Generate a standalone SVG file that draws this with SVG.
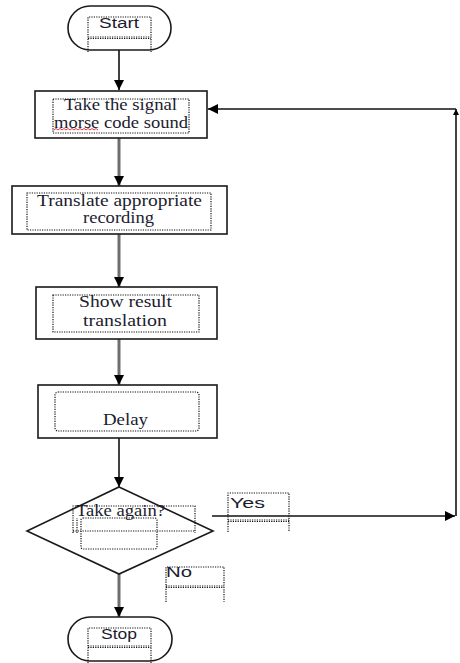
<svg xmlns="http://www.w3.org/2000/svg" width="460" height="663" viewBox="0 0 460 663">
<style>
.shape{fill:#fff;stroke:#1a1a1a;stroke-width:1.6}
.dot{fill:none;stroke:#111;stroke-width:1.2;stroke-dasharray:1.2 1.2}
.ser{font-family:"Liberation Serif","Times New Roman",serif;font-size:16px;fill:#1c1c30}
.sans{font-family:"Liberation Sans",Arial,sans-serif;font-size:14px;fill:#1c1c30}
.blk{fill:none;stroke:#111;stroke-width:1.6}
.gry{fill:none;stroke:#6e6e6e;stroke-width:3}
</style>
<defs>
<marker id="ah" viewBox="0 0 10 10" refX="10" refY="5" markerWidth="10" markerHeight="10" markerUnits="userSpaceOnUse" orient="auto">
<path d="M0,0 L10,5 L0,10 Z" fill="#000"/>
</marker>
<marker id="ahs" viewBox="0 0 10 10" refX="10" refY="5" markerWidth="6" markerHeight="6" markerUnits="userSpaceOnUse" orient="auto">
<path d="M0,0 L10,5 L0,10 Z" fill="#000"/>
</marker>
</defs>
<rect width="460" height="663" fill="#fff"/>
<g id="connectors">
<line class="blk" x1="119" y1="37" x2="119" y2="90" marker-end="url(#ah)"/>
<line class="gry" x1="119" y1="138" x2="119" y2="186" marker-end="url(#ah)"/>
<line class="gry" x1="119" y1="234" x2="119" y2="287" marker-end="url(#ah)"/>
<line class="gry" x1="119" y1="339" x2="119" y2="385" marker-end="url(#ah)"/>
<line class="blk" x1="119" y1="438" x2="119" y2="487" marker-end="url(#ah)"/>
<line class="gry" x1="119" y1="574" x2="119" y2="617" marker-end="url(#ah)"/>
<line class="blk" x1="212" y1="516" x2="455" y2="516" marker-end="url(#ah)"/>
<line class="blk" x1="456" y1="516" x2="456" y2="109" marker-end="url(#ahs)"/>
<line class="blk" x1="456" y1="109" x2="208" y2="109" marker-end="url(#ah)"/>
</g>
<g id="start">
<rect class="shape" x="68" y="6" width="103" height="44" rx="22"/>
<path class="dot" d="M88,52 V17 H151 V52 M88,37 H151 M88,38.5 H151"/>
<text class="sans" x="99" y="28" textLength="40" lengthAdjust="spacingAndGlyphs">Start</text>
</g>
<g id="take-signal">
<rect class="shape" x="35" y="91" width="172" height="47"/>
<rect class="dot" x="53" y="99" width="136" height="34"/>
<text class="ser" x="64" y="110" textLength="113" lengthAdjust="spacingAndGlyphs">Take the signal</text>
<text class="ser" x="54" y="128" textLength="134" lengthAdjust="spacingAndGlyphs">morse code sound</text>
<path d="M54,130 l2,-1.5 l2,1.5 l2,-1.5 l2,1.5 l2,-1.5 l2,1.5 l2,-1.5 l2,1.5 l2,-1.5 l2,1.5 l2,-1.5 l2,1.5 l2,-1.5 l2,1.5 l2,-1.5 l2,1.5 l2,-1.5 l2,1.5 l2,-1.5 l2,1.5 l2,-1.5 l2,1.5" fill="none" stroke="#e0202a" stroke-width="0.9"/>
</g>
<g id="translate">
<rect class="shape" x="12" y="186" width="215" height="48"/>
<rect class="dot" x="27" y="193" width="184" height="37"/>
<text class="ser" x="37" y="206" textLength="165" lengthAdjust="spacingAndGlyphs">Translate appropriate</text>
<text class="ser" x="83" y="223" textLength="71" lengthAdjust="spacingAndGlyphs">recording</text>
</g>
<g id="show-result">
<rect class="shape" x="36" y="287" width="181" height="52"/>
<rect class="dot" x="53" y="295" width="146" height="37"/>
<text class="ser" x="79" y="307" textLength="93" lengthAdjust="spacingAndGlyphs">Show result</text>
<text class="ser" x="83" y="326" textLength="84" lengthAdjust="spacingAndGlyphs">translation</text>
</g>
<g id="delay">
<rect class="shape" x="38" y="385" width="179" height="53"/>
<rect class="dot" x="55" y="392" width="144" height="39" rx="3"/>
<text class="ser" x="103" y="425" textLength="45" lengthAdjust="spacingAndGlyphs">Delay</text>
</g>
<g id="decision">
<polygon class="shape" points="119,487 213,531 119,574 27,531"/>
<path class="dot" d="M73,533 V506 H195 V533 M73,531 H195 M77,533 V518"/>
<rect class="dot" x="81" y="518" width="76" height="31" rx="2"/>
<text class="ser" x="76" y="516" textLength="89" lengthAdjust="spacingAndGlyphs">Take again?</text>
</g>
<g id="yes-label">
<path class="dot" d="M228,532 V493 H289 V532 M228,520 H289 M228,521.5 H289"/>
<text class="sans" x="230" y="508" textLength="35" lengthAdjust="spacingAndGlyphs">Yes</text>
</g>
<g id="no-label">
<path class="dot" d="M166,602 V567 H224 V602 M166,586 H224 M166,587.5 H224"/>
<text class="sans" x="166" y="577" textLength="26" lengthAdjust="spacingAndGlyphs">No</text>
</g>
<g id="stop">
<rect class="shape" x="68" y="617" width="104" height="44" rx="22"/>
<path class="dot" d="M88,663 V628 H151 V663 M88,646 H151 M88,647.5 H151"/>
<text class="sans" x="101" y="639" textLength="36" lengthAdjust="spacingAndGlyphs">Stop</text>
</g>
</svg>
